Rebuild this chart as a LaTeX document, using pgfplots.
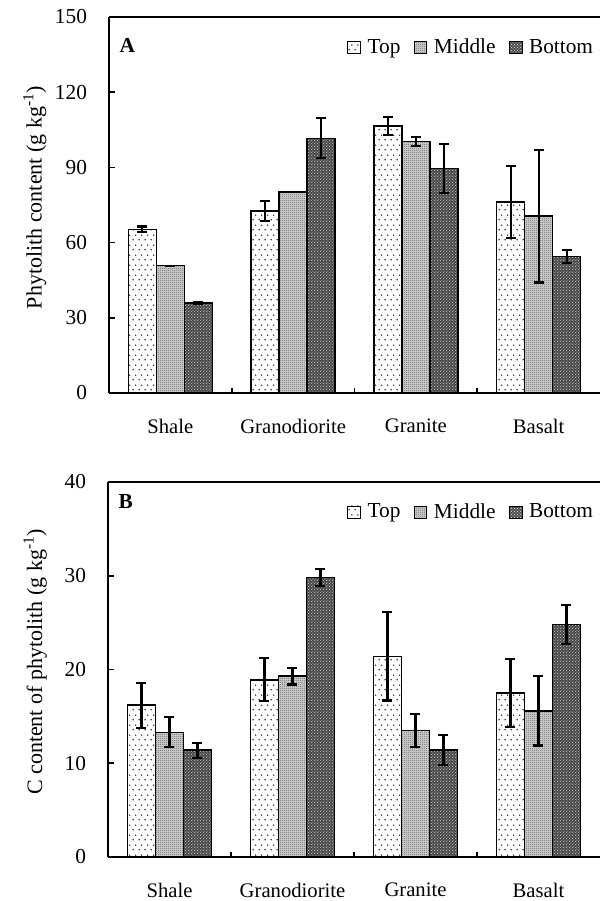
\documentclass[border=0pt]{standalone}
\usepackage{pgfplots}
\pgfplotsset{compat=1.18}
\usepackage{pgfplotstable}
\usepackage{fontspec}
\setmainfont{Liberation Serif}
\usetikzlibrary{patterns}

\pgfdeclarepatternformonly{sparsedots}{\pgfqpoint{0pt}{0pt}}{\pgfqpoint{4.5pt}{7.5pt}}{\pgfqpoint{4.5pt}{7.5pt}}{%
  \pgfpathcircle{\pgfqpoint{1pt}{1pt}}{0.6pt}%
  \pgfpathcircle{\pgfqpoint{3.25pt}{4.75pt}}{0.6pt}%
  \pgfusepath{fill}}
\pgfdeclarepatternformonly{finedots}{\pgfqpoint{0pt}{0pt}}{\pgfqpoint{1.5pt}{1.5pt}}{\pgfqpoint{1.5pt}{1.5pt}}{%
  \pgfpathcircle{\pgfqpoint{0.75pt}{0.75pt}}{0.42pt}%
  \pgfusepath{fill}}
\pgfdeclarepatternformonly{whitedots}{\pgfqpoint{0pt}{0pt}}{\pgfqpoint{2.4pt}{2.4pt}}{\pgfqpoint{2.4pt}{2.4pt}}{%
  \pgfpathcircle{\pgfqpoint{0.6pt}{0.6pt}}{0.45pt}%
  \pgfpathcircle{\pgfqpoint{1.8pt}{1.8pt}}{0.45pt}%
  \pgfusepath{fill}}

\pgfplotstableread{
x top toperr mid miderr bot boterr
0 65.3 1.1 50.8 0.0 35.8 0.3
1 72.6 4.0 80.3 0.0 101.6 8.0
2 106.5 3.5 100.3 1.8 89.5 9.7
3 76.2 14.5 70.6 26.5 54.5 2.6
}\dataA

\pgfplotstableread{
x top toperr mid miderr bot boterr
0 16.2 2.4 13.3 1.6 11.4 0.8
1 18.9 2.3 19.3 0.9 29.8 0.9
2 21.4 4.7 13.5 1.75 11.4 1.6
3 17.5 3.6 15.6 3.7 24.8 2.05
}\dataB

\pgfplotsset{
  topbar/.style={draw=black, line width=1.2pt, fill=white, postaction={pattern=sparsedots, pattern color=black}, bar shift=-21pt},
  midbar/.style={draw=black, line width=1.2pt, fill=black!22, postaction={pattern=finedots, pattern color=black!80}, bar shift=0pt},
  botbar/.style={draw=black, line width=1.2pt, fill=black!72, postaction={pattern=whitedots, pattern color=white}, bar shift=21pt},
  errlayer/.style={forget plot, draw=none, fill=none, bar shift=#1,
     error bars/.cd, y dir=both, y explicit,
     error bar style={line width=1.6pt, draw=black, solid},
     error mark options={rotate=90, mark size=3.75pt, line width=1.6pt, draw=black, solid}},
  panel/.style={
    scale only axis,
    ybar=0pt, bar width=21pt,
    xmin=-0.5, xmax=3.5,
    enlarge x limits=false, enlarge y limits=false,
    axis x line=bottom, axis y line=left,
    axis line style={-, line width=1.5pt},
    tick align=inside,
    major tick length=4.5pt, minor tick length=4pt,
    tick style={line width=1.2pt, black},
    xtick={0,1,2,3},
    xticklabels={Shale,Granodiorite,Granite,Basalt},
    minor xtick={0.5,1.5,2.5},
    major x tick style={draw=none},
    /pgf/number format/assume math mode=true,
    yticklabel style={xshift=-13pt, font=\fontsize{16}{19}\selectfont},
    xticklabel style={yshift=-16pt, font=\fontsize{15.5}{18}\selectfont},
    label style={font=\fontsize{16.5}{19}\selectfont},
    legend columns=3,
    legend style={draw=none, fill=none, font=\fontsize{16}{19}\selectfont,
      at={(axis description cs:1.0,0.92)}, anchor=east,
      /tikz/every odd column/.append style={column sep=3pt},
      /tikz/every even column/.append style={column sep=8pt}},
    legend image code/.code={\draw[#1, line width=0.6pt] (0pt,-4.5pt) rectangle (9.5pt,4.5pt);},
  }
}

\begin{document}
\begin{tikzpicture}
\path[use as bounding box] (0,0) rectangle (450pt,675.75pt);

\begin{axis}[panel,
  at={(81.75pt,381pt)}, anchor=south west,
  width=368.25pt, height=282pt,
  ymin=0, ymax=150, ytick={0,30,60,90,120,150},
  ylabel={Phytolith content (g kg\textsuperscript{-1})},
  ylabel style={at={(axis description cs:-0.151,0.52)}, anchor=center},
]
\addplot[topbar] table[x=x, y=top] {\dataA};
\addplot[midbar] table[x=x, y=mid] {\dataA};
\addplot[botbar] table[x=x, y=bot] {\dataA};
\legend{Top,Middle,Bottom}
\addplot[errlayer=-21pt] table[x=x, y=top, y error=toperr] {\dataA};
\addplot[errlayer=0pt] table[x=x, y=mid, y error=miderr] {\dataA};
\addplot[errlayer=21pt] table[x=x, y=bot, y error=boterr] {\dataA};
\draw[line width=1.5pt] (rel axis cs:0,1) -- (rel axis cs:1,1);
\node[anchor=west, font=\bfseries\fontsize{16}{19}\selectfont] at (rel axis cs:0.012,0.925) {A};
\end{axis}

\begin{axis}[panel,
  at={(81pt,33pt)}, anchor=south west,
  width=369pt, height=281.25pt,
  ymin=0, ymax=40, ytick={0,10,20,30,40},
  ylabel={C content of phytolith (g kg\textsuperscript{-1})},
  ylabel style={at={(axis description cs:-0.148,0.52)}, anchor=center},
]
\addplot[topbar] table[x=x, y=top] {\dataB};
\addplot[midbar] table[x=x, y=mid] {\dataB};
\addplot[botbar] table[x=x, y=bot] {\dataB};
\legend{Top,Middle,Bottom}
\addplot[errlayer=-21pt] table[x=x, y=top, y error=toperr] {\dataB};
\addplot[errlayer=0pt] table[x=x, y=mid, y error=miderr] {\dataB};
\addplot[errlayer=21pt] table[x=x, y=bot, y error=boterr] {\dataB};
\draw[line width=1.5pt] (rel axis cs:0,1) -- (rel axis cs:1,1);
\node[anchor=west, font=\bfseries\fontsize{16}{19}\selectfont] at (rel axis cs:0.012,0.947) {B};
\end{axis}
\end{tikzpicture}
\end{document}
